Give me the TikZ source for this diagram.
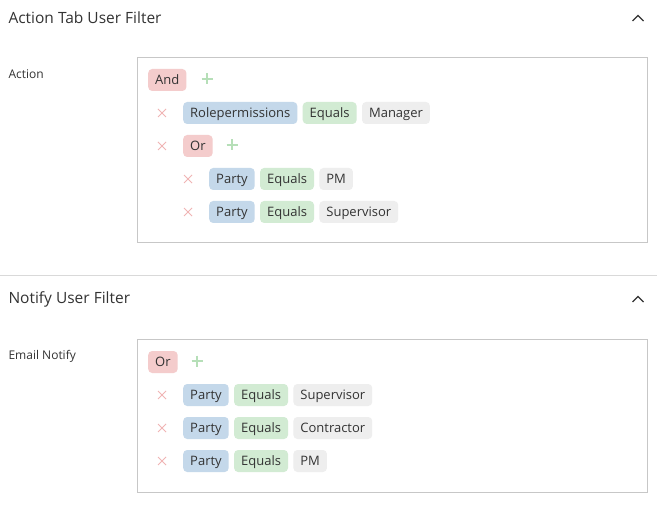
\documentclass[tikz,border=0pt]{standalone}
\usepackage{fontspec}
\setmainfont{Open Sans}
\usetikzlibrary{positioning}
\definecolor{opred}{HTML}{F4CCCC}
\definecolor{fldblue}{HTML}{C4D8EA}
\definecolor{eqgreen}{HTML}{D2EBD3}
\definecolor{valgray}{HTML}{EEEEEE}
\definecolor{delred}{HTML}{F0B4B4}
\definecolor{addgreen}{HTML}{B6DFB8}
\definecolor{txt}{HTML}{333333}
\tikzset{
  chip/.style={rounded corners=4pt, minimum height=22pt, inner xsep=7pt, inner ysep=0pt,
    font=\fontsize{13}{15}\selectfont, text=txt, anchor=west, text depth=1pt, text height=10pt},
  opchip/.style={chip, fill=opred},
  fldchip/.style={chip, fill=fldblue},
  eqchip/.style={chip, fill=eqgreen},
  valchip/.style={chip, fill=valgray},
  heading/.style={font=\fontsize{15.5}{18}\selectfont, text=txt, anchor=west},
  label/.style={font=\fontsize{12}{14}\selectfont, text=txt, anchor=west},
  panel/.style={draw=black!22, line width=0.8pt}
}
\newcommand{\delmark}[2]{\draw[delred, line width=1pt] (#1-4,#2-4) -- (#1+4,#2+4) (#1-4,#2+4) -- (#1+4,#2-4);}
\newcommand{\addmark}[2]{\draw[addgreen, line width=1.2pt] (#1-5.5,#2) -- (#1+5.5,#2) (#1,#2-5.5) -- (#1,#2+5.5);}
\newcommand{\chevron}[2]{\draw[txt, line width=1.2pt] (#1-5.5,#2+3) -- (#1,#2-2.5) -- (#1+5.5,#2+3);}
\begin{document}
\begin{tikzpicture}[x=1pt, y=-1pt]
  \useasboundingbox[fill=white] (0,0) rectangle (657,508);

  % Section 1: Action Tab User Filter
  \node[heading] (head1) at (5,18) {Action Tab User Filter};
  \chevron{638}{18}
  \node[label] (lab1) at (5,74) {Action};
  \draw[panel] (137,57) rectangle (647,242);

  \node[opchip] (and) at (148,80) {And};
  \addmark{207}{79}

  \delmark{162}{113}
  \node[fldchip] (f1) at (183,113) {Rolepermissions};
  \node[eqchip, right=5pt of f1] (e1) {Equals};
  \node[valchip, right=5pt of e1] (v1) {Manager};

  \delmark{162}{146}
  \node[opchip] (or1) at (183,146) {Or};
  \addmark{232}{145}

  \delmark{188}{179}
  \node[fldchip] (f2) at (209,179) {Party};
  \node[eqchip, right=5pt of f2] (e2) {Equals};
  \node[valchip, right=5pt of e2] (v2) {PM};

  \delmark{188}{212}
  \node[fldchip] (f3) at (209,212) {Party};
  \node[eqchip, right=5pt of f3] (e3) {Equals};
  \node[valchip, right=5pt of e3] (v3) {Supervisor};

  \draw[black!15, line width=0.8pt] (0,275) -- (657,275);

  % Section 2: Notify User Filter
  \node[heading] (head2) at (5,299) {Notify User Filter};
  \chevron{638}{299}
  \node[label] (lab2) at (5,356) {Email Notify};
  \draw[panel] (137,339) rectangle (647,492);

  \node[opchip] (or2) at (148,362) {Or};
  \addmark{197}{361}

  \foreach \y/\val [count=\i] in {395/Supervisor, 428/Contractor, 461/PM} {
    \delmark{162}{\y}
    \node[fldchip] (g\i) at (183,\y) {Party};
    \node[eqchip, right=5pt of g\i] (q\i) {Equals};
    \node[valchip, right=5pt of q\i] (w\i) {\val};
  }
\end{tikzpicture}
\end{document}
